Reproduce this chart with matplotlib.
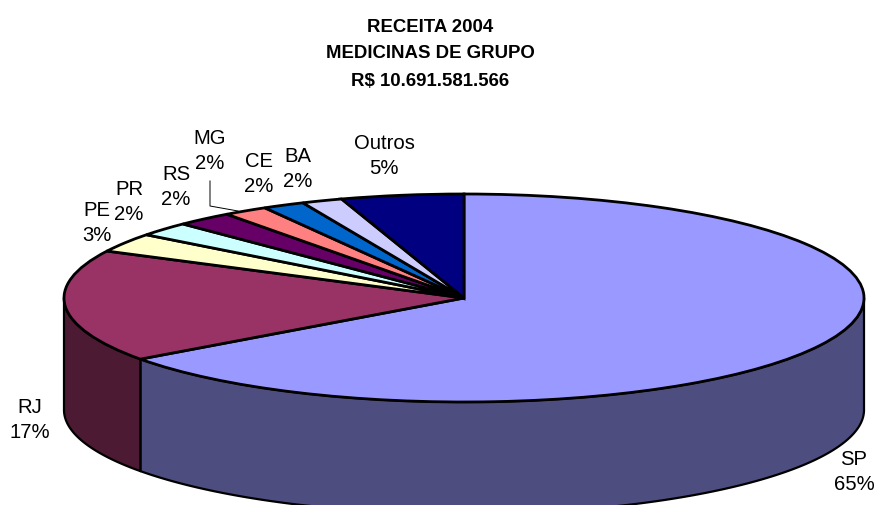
import matplotlib
matplotlib.use("Agg")
import matplotlib.pyplot as plt
import numpy as np

plt.rcParams["font.family"] = ["Liberation Sans", "DejaVu Sans"]

W, H = 876, 505
CX, CY, RX, RY = 464, 298, 400, 104
DEPTH = 112 / RY

states = ["SP", "RJ", "PE", "PR", "RS", "MG", "CE", "BA", "Outros"]
shares = [65.0, 17.45, 2.95, 2.2, 2.3, 1.8, 1.7, 1.65, 4.95]
top_colors = ["#9999FF", "#993366", "#FFFFCC", "#CCFFFF", "#660066",
              "#FF8080", "#0066CC", "#CCCCFF", "#000080"]
side_colors = ["#4D4D80", "#4D1A33", "#808066", "#668080", "#330033",
               "#804040", "#003366", "#666680", "#000040"]
# label centres in pixels
label_pos = [(854, 472), (30, 420), (97, 223), (129, 202), (176, 187),
             (210, 151), (259, 174), (298, 169), (384, 156)]

title_lines = ["RECEITA 2004", "MEDICINAS DE GRUPO", "R$ 10.691.581.566"]


def px(x, y):
    return x / W, 1 - y / H


fig = plt.figure(figsize=(W / 100, H / 100), dpi=100)
ax = fig.add_axes([0, 0, 1, 1])
ax.axis("off")

# sides first, only the front half of the disc shows
edges = np.cumsum([0] + shares) / sum(shares) * 2 * np.pi
for i in range(len(shares)):
    a0, a1 = max(edges[i], np.pi / 2), min(edges[i + 1], 3 * np.pi / 2)
    if a1 <= a0:
        continue
    t = np.linspace(a0, a1, 200)
    x = np.sin(t)
    y = np.cos(t)
    ax.fill(np.r_[x, x[::-1]], np.r_[y, y[::-1] - DEPTH],
            facecolor=side_colors[i], edgecolor="black", linewidth=1.6,
            joinstyle="round", zorder=1)

wedges, _ = ax.pie(shares, colors=top_colors, startangle=90, counterclock=False,
                   radius=1, wedgeprops=dict(edgecolor="black", linewidth=2.0))
for w in wedges:
    w.set_zorder(2)
ax.set_aspect("auto")
ax.set_xlim((0 - CX) / RX, (W - CX) / RX)
ax.set_ylim((CY - H) / RY, CY / RY)

for name, share, (lx, ly) in zip(states, shares, label_pos):
    fig.text(*px(lx, ly), f"{name}\n{share:.0f}%", ha="center", va="center",
             fontsize=14.6, linespacing=1.36, color="black")

# leader line for MG
fig.add_artist(plt.Line2D([210 / W, 210 / W, 238 / W],
                          [1 - 181 / H, 1 - 206 / H, 1 - 211 / H],
                          color="black", linewidth=0.7))

for line, y in zip(title_lines, [27, 54, 81]):
    fig.text(*px(430, y), line, ha="center", va="center",
             fontsize=13.4, fontweight="bold", color="black")

fig.savefig("out.png", dpi=100, facecolor="white")
